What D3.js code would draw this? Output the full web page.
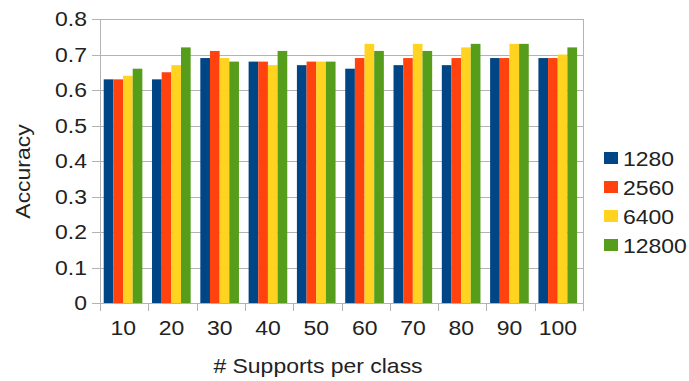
<!DOCTYPE html>
<html>
<head>
<meta charset="utf-8">
<script src="https://cdn.jsdelivr.net/npm/d3@7"></script>
<style>
  html, body { margin: 0; padding: 0; background: #fff; }
  svg { display: block; }
  text { font-family: "Liberation Sans", Arial, sans-serif; fill: #222; }
</style>
</head>
<body>
<svg id="chart" width="689" height="381"></svg>
<script>
// Supports per class (x categories)
const categories = ["10", "20", "30", "40", "50", "60", "70", "80", "90", "100"];
// Series names (legend)
const seriesNames = ["1280", "2560", "6400", "12800"];
const seriesColors = ["#004586", "#ff420e", "#ffd320", "#579d1c"];
// Accuracy per series, one value per category
const acc1280  = [0.63, 0.63, 0.69, 0.68, 0.67, 0.66, 0.67, 0.67, 0.69, 0.69];
const acc2560  = [0.63, 0.65, 0.71, 0.68, 0.68, 0.69, 0.69, 0.69, 0.69, 0.69];
const acc6400  = [0.64, 0.67, 0.69, 0.67, 0.68, 0.73, 0.73, 0.72, 0.73, 0.70];
const acc12800 = [0.66, 0.72, 0.68, 0.71, 0.68, 0.71, 0.71, 0.73, 0.73, 0.72];
const seriesValues = [acc1280, acc2560, acc6400, acc12800];
// Y axis ticks
const yTicks = [0, 0.1, 0.2, 0.3, 0.4, 0.5, 0.6, 0.7, 0.8];

const svg = d3.select("#chart");
const plot = { left: 100, right: 583, top: 19, bottom: 303 };
const FS = 20.5, SX = 1.12; // font size and horizontal glyph stretch

const x0 = d3.scaleBand().domain(categories).range([plot.left, plot.right]).padding(0);
const bw = x0.bandwidth();
const x1 = d3.scaleBand().domain(d3.range(seriesNames.length))
  .range([bw * 0.077, bw * 0.077 + bw * 0.8]).padding(0);
const y = d3.scaleLinear().domain([0, 0.8]).range([plot.bottom, plot.top]);

const grid = "#b3b3b3";

// Horizontal gridlines
svg.append("g").selectAll("line").data(yTicks).join("line")
  .attr("x1", plot.left - 8).attr("x2", plot.right)
  .attr("y1", d => Math.round(y(d)) + 0.5).attr("y2", d => Math.round(y(d)) + 0.5)
  .attr("stroke", grid).attr("stroke-width", 1);

// Bars
const groups = svg.append("g").selectAll("g").data(categories).join("g")
  .attr("transform", c => `translate(${x0(c)},0)`);
groups.selectAll("rect")
  .data((c, ci) => seriesValues.map((vals, si) => ({ si, v: vals[ci] })))
  .join("rect")
  .attr("x", d => x1(d.si))
  .attr("width", x1.bandwidth())
  .attr("y", d => y(d.v))
  .attr("height", d => y(0) - y(d.v))
  .attr("fill", d => seriesColors[d.si]);

// Plot frame: left axis, right edge, bottom axis
svg.append("line").attr("x1", plot.left + 0.5).attr("x2", plot.left + 0.5)
  .attr("y1", plot.top).attr("y2", plot.bottom + 8).attr("stroke", grid);
svg.append("line").attr("x1", plot.right + 0.5).attr("x2", plot.right + 0.5)
  .attr("y1", plot.top).attr("y2", plot.bottom + 8).attr("stroke", grid);
svg.append("line").attr("x1", plot.left).attr("x2", plot.right)
  .attr("y1", plot.bottom + 0.5).attr("y2", plot.bottom + 0.5).attr("stroke", grid);

// Category boundary ticks
svg.append("g").selectAll("line").data(categories.slice(1)).join("line")
  .attr("x1", c => Math.round(x0(c)) + 0.5).attr("x2", c => Math.round(x0(c)) + 0.5)
  .attr("y1", plot.bottom).attr("y2", plot.bottom + 8).attr("stroke", grid);

// Y tick labels
svg.append("g").selectAll("text").data(yTicks).join("text")
  .attr("transform", d => `translate(87,${y(d)}) scale(${SX},1)`)
  .attr("dy", "0.36em")
  .attr("text-anchor", "end")
  .attr("font-size", FS)
  .text(d => d === 0 ? "0" : d3.format(".1f")(d));

// X tick labels
svg.append("g").selectAll("text").data(categories).join("text")
  .attr("transform", c => `translate(${x0(c) + bw / 2 - 1},335) scale(${SX},1)`)
  .attr("text-anchor", "middle")
  .attr("font-size", FS)
  .text(c => c);

// Axis titles
svg.append("text")
  .attr("transform", `translate(318,373) scale(${SX},1)`)
  .attr("text-anchor", "middle").attr("font-size", FS)
  .text("# Supports per class");
svg.append("text")
  .attr("transform", `translate(30,171.5) rotate(-90) scale(${SX},1)`)
  .attr("text-anchor", "middle").attr("font-size", FS)
  .text("Accuracy");

// Legend
const legend = svg.append("g").selectAll("g").data(seriesNames).join("g")
  .attr("transform", (d, i) => `translate(604,${158 + i * 29})`);
legend.append("rect").attr("x", 0).attr("y", -6).attr("width", 14).attr("height", 12)
  .attr("fill", (d, i) => seriesColors[i]);
legend.append("text")
  .attr("transform", `translate(19,7.5) scale(${SX},1)`)
  .attr("font-size", FS)
  .text(d => d);
</script>
</body>
</html>
